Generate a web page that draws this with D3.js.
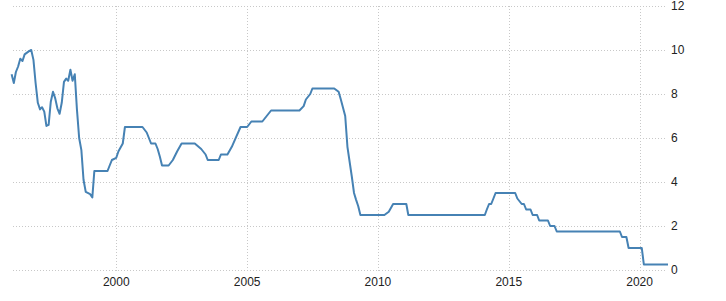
<!DOCTYPE html>
<html>
<head>
<meta charset="utf-8">
<script src="https://cdn.jsdelivr.net/npm/d3@7"></script>
<style>
    body { margin: 0; background: #fff; }
    svg { display: block; }
</style>
</head>
<body>
<div id="chart"></div>
<script>
(function () {
    'use strict';

    // monthly readings (month, rate %)
    var months = [
        "1996-01", "1996-02", "1996-03", "1996-04", "1996-05", "1996-06", "1996-07", "1996-09", "1996-10", "1996-11", "1996-12",
        "1997-01", "1997-02", "1997-03", "1997-04", "1997-05", "1997-06", "1997-07", "1997-08", "1997-09", "1997-10", "1997-11", "1997-12",
        "1998-01", "1998-02", "1998-03", "1998-04", "1998-05", "1998-06", "1998-07", "1998-08", "1998-09", "1998-10", "1998-11",
        "1999-01", "1999-02", "1999-03", "1999-09", "1999-10", "1999-11",
        "2000-01", "2000-02", "2000-04", "2000-05",
        "2001-01", "2001-03", "2001-05", "2001-07", "2001-08", "2001-09", "2001-10",
        "2002-01", "2002-03", "2002-05", "2002-07",
        "2003-01", "2003-04", "2003-06", "2003-07", "2003-12",
        "2004-01", "2004-04", "2004-06", "2004-08", "2004-10",
        "2005-01", "2005-03", "2005-08", "2005-10", "2005-12",
        "2007-01", "2007-03", "2007-04", "2007-06", "2007-07",
        "2008-05", "2008-07", "2008-08", "2008-10", "2008-11",
        "2009-01", "2009-02", "2009-03", "2009-04", "2009-05",
        "2010-04", "2010-06", "2010-08", "2011-02", "2011-03",
        "2014-02", "2014-03", "2014-04", "2014-05", "2014-06", "2014-07",
        "2015-04", "2015-05", "2015-07", "2015-08", "2015-09", "2015-11", "2015-12",
        "2016-02", "2016-03", "2016-07", "2016-08", "2016-10", "2016-11",
        "2019-04", "2019-05", "2019-07", "2019-08",
        "2020-02", "2020-03", "2021-02"
    ];
    var rates = [
        8.9, 8.5, 9.0, 9.25, 9.6, 9.5, 9.8, 9.95, 10.0, 9.55, 8.5,
        7.6, 7.3, 7.4, 7.2, 6.55, 6.6, 7.65, 8.1, 7.8, 7.35, 7.1, 7.6,
        8.55, 8.7, 8.6, 9.1, 8.6, 8.9, 7.3, 6.0, 5.45, 4.1, 3.55,
        3.45, 3.3, 4.5, 4.5, 4.75, 5.0,
        5.1, 5.4, 5.75, 6.5,
        6.5, 6.25, 5.75, 5.75, 5.5, 5.15, 4.75,
        4.75, 5.0, 5.4, 5.75,
        5.75, 5.5, 5.25, 5.0, 5.0,
        5.25, 5.25, 5.6, 6.05, 6.5,
        6.5, 6.75, 6.75, 7.0, 7.25,
        7.25, 7.45, 7.75, 8.0, 8.25,
        8.25, 8.1, 7.75, 7.0, 5.6,
        4.25, 3.5, 3.2, 2.9, 2.5,
        2.5, 2.65, 3.0, 3.0, 2.5,
        2.5, 2.75, 3.0, 3.0, 3.25, 3.5,
        3.5, 3.25, 3.0, 3.0, 2.75, 2.75, 2.5,
        2.5, 2.25, 2.25, 2.0, 2.0, 1.75,
        1.75, 1.5, 1.5, 1.0,
        1.0, 0.25, 0.25
    ];
    var yTicks = [0, 2, 4, 6, 8, 10, 12];
    var xTicks = ["2000", "2005", "2010", "2015", "2020"];

    var WIDTH = 726;
    var HEIGHT = 301;
    var LEFT = 13;
    var RIGHT = 667;

    var parseMonth = d3.timeParse("%Y-%m");
    var parseYear = d3.timeParse("%Y");

    var data = months.map(function (m, i) {
        return {date: parseMonth(m), value: rates[i]};
    });

    var x = d3.scaleTime()
        .domain(d3.extent(data, function (d) { return d.date; }))
        .range([11.6, 668]);

    var y = d3.scaleLinear()
        .domain([0, 12])
        .range([270, 6]);

    var svg = d3.select("#chart")
        .append("svg")
        .attr("width", WIDTH)
        .attr("height", HEIGHT);

    // horizontal grid + right labels
    svg.selectAll("line.hgrid")
        .data(yTicks)
        .enter()
        .append("line")
        .attr("class", "hgrid")
        .attr("x1", LEFT)
        .attr("x2", RIGHT)
        .attr("y1", function (d) { return Math.round(y(d)) + 0.5; })
        .attr("y2", function (d) { return Math.round(y(d)) + 0.5; })
        .attr("stroke", "#c8c8c8")
        .attr("stroke-width", 1)
        .attr("stroke-dasharray", "1,2");

    svg.selectAll("text.ylab")
        .data(yTicks)
        .enter()
        .append("text")
        .attr("class", "ylab")
        .attr("x", 671)
        .attr("y", function (d) { return y(d); })
        .attr("dy", "0.35em")
        .attr("font-family", "Liberation Sans, Arial, sans-serif")
        .attr("font-size", 12)
        .attr("fill", "#222")
        .text(function (d) { return d; });

    // vertical grid + bottom labels
    svg.selectAll("line.vgrid")
        .data(xTicks)
        .enter()
        .append("line")
        .attr("class", "vgrid")
        .attr("x1", function (d) { return Math.round(x(parseYear(d))) + 0.5; })
        .attr("x2", function (d) { return Math.round(x(parseYear(d))) + 0.5; })
        .attr("y1", 6)
        .attr("y2", 273)
        .attr("stroke", "#c8c8c8")
        .attr("stroke-width", 1)
        .attr("stroke-dasharray", "1,2");

    svg.selectAll("text.xlab")
        .data(xTicks)
        .enter()
        .append("text")
        .attr("class", "xlab")
        .attr("x", function (d) { return x(parseYear(d)); })
        .attr("y", 286)
        .attr("text-anchor", "middle")
        .attr("font-family", "Liberation Sans, Arial, sans-serif")
        .attr("font-size", 12)
        .attr("fill", "#222")
        .text(function (d) { return d; });

    var line = d3.line()
        .x(function (d) { return x(d.date); })
        .y(function (d) { return y(d.value); });

    svg.append("path")
        .datum(data)
        .attr("d", line)
        .attr("fill", "none")
        .attr("stroke", "#4682b4")
        .attr("stroke-width", 2)
        .attr("stroke-linejoin", "round");
})();
</script>
</body>
</html>
